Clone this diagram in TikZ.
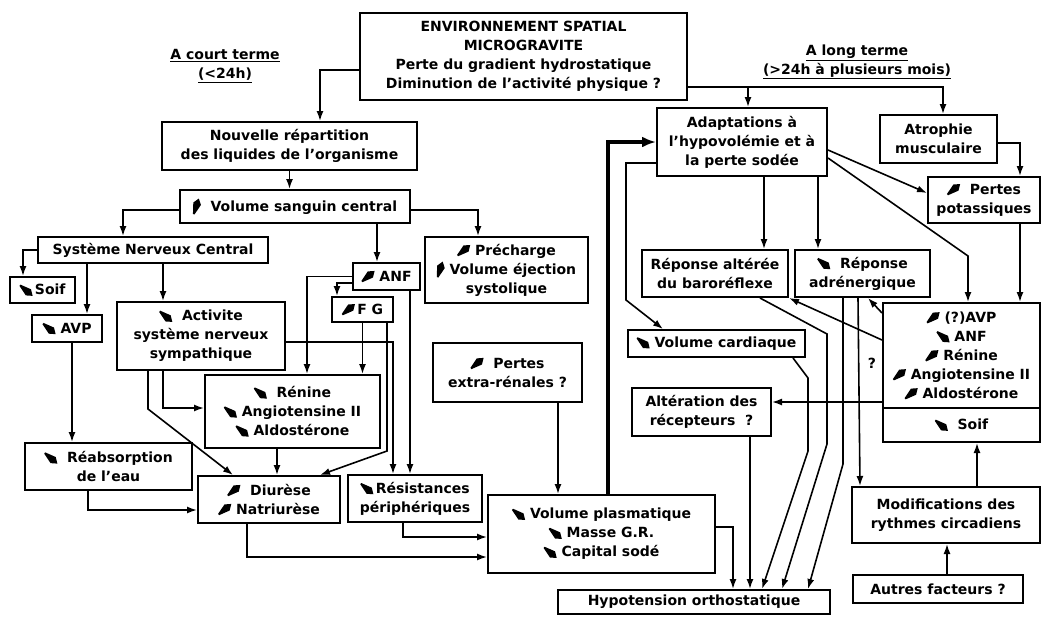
\documentclass[tikz,border=0pt]{standalone}
\usepackage{fontspec}
\setmainfont{DejaVu Sans}
\usetikzlibrary{arrows.meta,calc}

\newcommand{\fleche}[1]{\tikz[x=1pt, y=1pt, rotate=#1,
  baseline={([yshift=-4.5pt]current bounding box.center)}]
  \fill (0,0.8) -- (11,4) -- (16.5,0) -- (11,-4) -- (0,-0.8) -- cycle;}
\newcommand{\hausse}{\fleche{40}}
\newcommand{\baisse}{\fleche{-40}}
\newcommand{\raide}{\fleche{72}}

\begin{document}
\begin{tikzpicture}[x=1pt,y=-1pt,
  font=\fontsize{14}{19}\selectfont\bfseries,
  box/.style={draw, line width=2pt, align=center, inner sep=2pt},
  taille/.style 2 args={minimum width=#1pt, minimum height=#2pt},
  arr/.style={-{Latex[length=10pt,width=7pt]}, line width=1.6pt},
  grosse/.style={-{Latex[length=14pt,width=11pt]}, line width=3.5pt},
  titre/.style={align=center}]
  \useasboundingbox[fill=white] (0,0) rectangle (1044,616);

  % 1. Les boites
  \node[box, taille={327}{87}] (env) at (523.5,56.5)
    {ENVIRONNEMENT SPATIAL\\MICROGRAVITE\\Perte du gradient hydrostatique\\Diminution de l'activité physique ?};
  \node[titre] (court) at (225,66) {\underline{A court terme}\\\underline{(<24h)}};
  \node[titre] (long) at (857,62) {\underline{A long terme}\\\underline{(>24h à plusieurs mois)}};

  \node[box, taille={255}{48}] (nouv) at (289.5,146) {Nouvelle répartition\\des liquides de l'organisme};
  \node[box, taille={230}{33}] (volsang) at (295,206.5) {\raide\ \ Volume sanguin central};
  \node[box, taille={230}{26}] (snc) at (153,250) {Système Nerveux Central};
  \node[box, taille={65}{26}] (soif1) at (42.5,290) {\baisse\,Soif};
  \node[box, taille={70}{27}] (avp) at (67,328.5) {\baisse\ AVP};
  \node[box, taille={168}{68}] (activ) at (201,336) {\baisse\ \ Activite\\système nerveux\\sympathique};
  \node[box, taille={67}{27}] (anf) at (386.5,276.5) {\hausse\ ANF};
  \node[box, taille={61}{25}] (fg) at (362.5,309.5) {\hausse\,F G};
  \node[box, taille={163}{66}] (prech) at (506.5,270) {\hausse\ Précharge\\\raide\ Volume éjection\\systolique};
  \node[box, taille={149}{59}] (extra) at (507.5,372.5) {\hausse\ \ Pertes\\extra-rénales ?};
  \node[box, taille={175}{73}] (renine) at (292.5,411.5) {\baisse\ \ Rénine\\\baisse\ Angiotensine II\\\baisse\ Aldostérone};
  \node[box, taille={167}{47}] (reabs) at (108.5,466.5) {\baisse\ \ Réabsorption\\de l'eau};
  \node[box, taille={142}{47}] (diur) at (269,499.5) {\hausse\ \ Diurèse\\\hausse\ Natriurèse};
  \node[box, taille={134}{47}] (resist) at (415,498.5) {\baisse\,Résistances\\périphériques};
  \node[box, taille={227}{78}] (volplas) at (601.5,534) {\baisse\ Volume plasmatique\\\baisse\ Masse G.R.\\\baisse\ Capital sodé};
  \node[box, taille={272}{24}] (hypo) at (694,602) {Hypotension orthostatique};

  \node[box, taille={170}{68}] (adapt) at (742,142) {Adaptations à\\l'hypovolémie et à\\la perte sodée};
  \node[box, taille={117}{48}] (atroph) at (938.5,139) {Atrophie\\musculaire};
  \node[box, taille={112}{46}] (potass) at (984,200) {\hausse\ \ Pertes\\potassiques};
  \node[box, taille={146}{47}] (baro) at (715,273.5) {Réponse altérée\\du baroréflexe};
  \node[box, taille={135}{47}] (adren) at (862.5,273.5) {\baisse\ \ Réponse\\adrénergique};
  \node[box, taille={177}{27}] (volcard) at (716.5,343.5) {\baisse\ Volume cardiaque};
  \node[box, taille={139}{48}] (alter) at (701.5,412) {Altération des\\récepteurs \ ?};
  \node[box, taille={157}{105}] (hormo) at (961.5,355.5)
    {\hausse\ (?)AVP\\\baisse\ ANF\\\hausse\ Rénine\\\hausse\ Angiotensine II\\\hausse\ Aldostérone};
  \node[box, taille={157}{34}] (soif2) at (961.5,425) {\baisse\ \ Soif};
  \node[box, taille={188}{56}] (modif) at (946,515) {Modifications des\\rythmes circadiens};
  \node[box, taille={170}{28}] (autres) at (938,589) {Autres facteurs ?};
  \node (q) at (872,363) {?};

  % 2. Court terme
  \draw[arr] ($(env.west)+(0,13.5)$) -| ($(nouv.north)+(30.5,0)$);
  \draw[arr] (nouv.south) -- (nouv.south |- volsang.north);
  \draw[arr] ($(volsang.west)+(0,3.5)$) -| ($(snc.north)+(-30,0)$);
  \draw[arr] ($(volsang.east)+(0,3.5)$) -| ($(prech.north)+(-28.5,0)$);
  \draw[arr] ($(volsang.south)+(82,0)$) -- ($(anf.north)+(-9.5,0)$);
  \draw[arr] (snc.west) -| ($(soif1.north)+(-19.5,0)$);
  \draw[arr] ($(snc.south)+(-66,0)$) -- ($(avp.north)+(20,0)$);
  \draw[arr] ($(snc.south)+(10,0)$) -- ($(activ.north)+(-38,0)$);
  \draw[arr] ($(avp.south)+(5,0)$) -- ($(reabs.north)+(-36.5,0)$);
  \draw[arr] ($(activ.south)+(-38,0)$) |- ($(renine.west)+(0,-3.5)$);
  \draw[arr] ($(activ.south)+(-53,0)$) -- ++(0,38) -- ($(diur.north)+(-36,0)$);
  \draw[arr] ($(activ.east)+(0,6)$) -| ($(resist.north)+(-22,0)$);
  \draw[arr] (anf.west) -| ($(renine.north)+(14.5,0)$);
  \draw[arr] ($(anf.west)+(0,6.5)$) -| ($(fg.north)+(-25.5,0)$);
  \draw[arr] ($(anf.south)+(23.5,0)$) -- ($(resist.north)+(-5,0)$);
  \draw[arr] (fg.south) -- (fg.south |- renine.north);
  \draw[arr] ($(fg.south)+(24.5,0)$) -- ++(0,128) -- ($(diur.north)+(51,0)$);
  \draw[arr] ($(renine.south)+(-15.5,0)$) -- ($(diur.north)+(8,0)$);
  \draw[arr] ($(reabs.south)+(-20.5,0)$) |- ($(diur.west)+(0,10.5)$);
  \draw[arr] ($(diur.south)+(-22,0)$) |- ($(volplas.west)+(0,23)$);
  \draw[arr] ($(resist.south)+(-12,0)$) |- ($(volplas.west)+(0,3)$);
  \draw[arr] ($(extra.south)+(50.5,0)$) -- ($(volplas.north)+(-43.5,0)$);
  \draw[grosse] ($(volplas.north)+(6.5,0)$) |- (adapt.west);
  \draw[arr] ($(volplas.east)+(0,-7)$) -| ($(hypo.north)+(39,0)$);

  % 3. Long terme
  \draw[arr] ($(env.east)+(0,30.5)$) -| ($(adapt.north)+(6,0)$);
  \draw[arr] ($(env.east)+(0,30.5)$) -| ($(atroph.north)+(4.5,0)$);
  \draw[arr] ($(atroph.east)+(0,4)$) -| ($(potass.north)+(36,0)$);
  \draw[arr] ($(adapt.west)+(0,21)$) -| ++(-30,137) -- ($(volcard.north)+(-53.5,0)$);
  \draw[arr] ($(adapt.south)+(22,0)$) -- ($(baro.north)+(49,0)$);
  \draw[arr] ($(adapt.south)+(76,0)$) -- ($(adren.north)+(-44.5,0)$);
  \draw[arr] ($(adapt.east)+(0,8)$) -- ($(potass.west)+(0,-7)$);
  \draw[arr] ($(adapt.east)+(0,16)$) -- ($(hormo.north)+(6.5,-46)$) -- ($(hormo.north)+(6.5,0)$);
  \draw[arr] ($(potass.south)+(36,0)$) -- ($(hormo.north)+(58.5,0)$);
  \draw[arr] ($(hormo.west)+(0,-42.5)$) -- ($(adren.south)+(5.5,0)$);
  \draw[arr] ($(hormo.west)+(0,-15.5)$) -- (baro.south east);
  \draw[arr] ($(hormo.west)+(0,46.5)$) -- ($(alter.east)+(0,-10)$);
  \draw[arr] ($(alter.south)+(48.5,0)$) -- ($(hypo.north)+(56,0)$);
  \draw[arr] ($(volcard.south)+(76.5,0)$) -- ++(15,20) -- ++(0,73) -- ($(hypo.north)+(68,0)$);
  \draw[arr] ($(baro.south)+(45,0)$) -- ++(67,36) -- ++(0,110) -- ($(hypo.north)+(88,0)$);
  \draw[arr] ($(adren.south)+(-19.5,0)$) -- ++(0,166) -- ($(hypo.north)+(114,0)$);
  \draw[arr] ($(adren.south)+(-4.5,0)$) -- ($(modif.north)+(-86,0)$);
  \draw[arr] ($(modif.north)+(31,0)$) -- ($(soif2.south)+(15.5,0)$);
  \draw[arr] ($(autres.north)+(9,0)$) -- ($(modif.south)+(1,0)$);
\end{tikzpicture}
\end{document}
